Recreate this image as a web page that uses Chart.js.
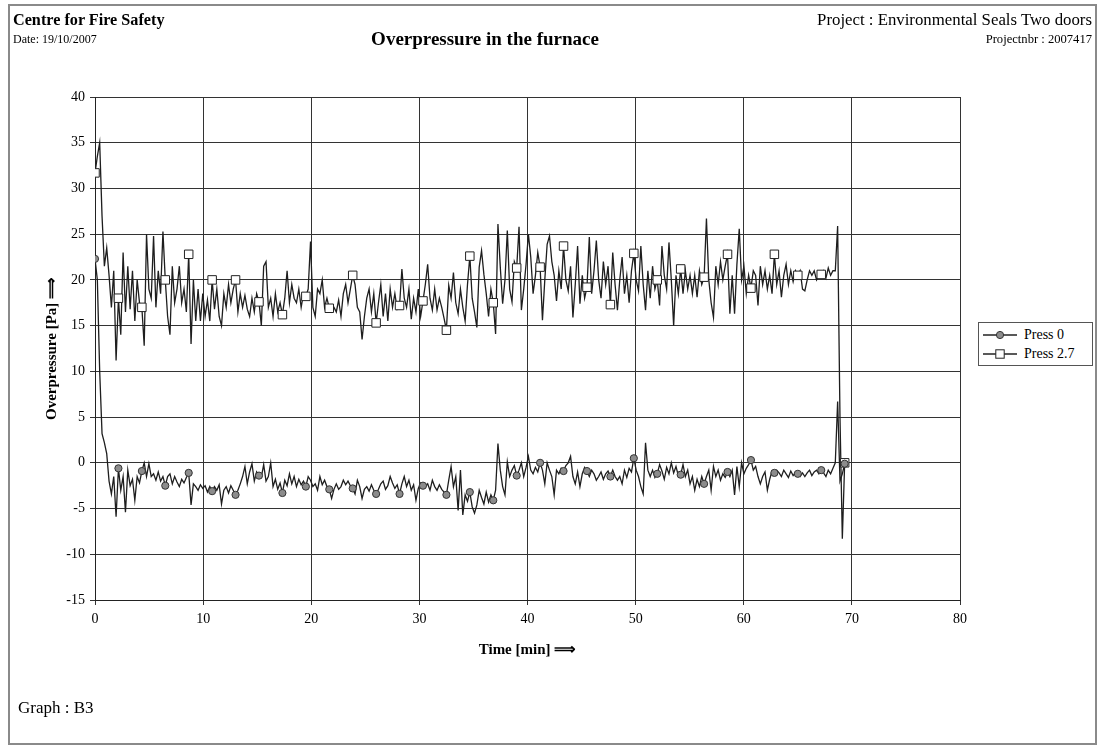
<!DOCTYPE html>
<html>
<head>
<meta charset="utf-8">
<script src="https://cdn.jsdelivr.net/npm/chart.js"></script>
<style>
html,body{margin:0;padding:0;background:#fff;}
#wrap{position:relative;width:1103px;height:747px;overflow:hidden;font-family:"Liberation Serif","Times New Roman",serif;color:#000;background:#fff;}
#frame{position:absolute;left:8px;top:4px;width:1089px;height:741px;border:2px solid #8a8a8a;box-sizing:border-box;}
canvas{position:absolute;left:0;top:0;}
.t{position:absolute;white-space:nowrap;line-height:1;transform:translateY(-50%);}
.r{text-align:right;}
#legend{position:absolute;left:978px;top:322px;width:115px;height:44px;border:1px solid #555;box-sizing:border-box;background:#fff;}
.lrow{position:absolute;left:4px;height:16px;display:flex;align-items:center;font-size:14px;}
.lrow svg{margin-right:7px;}
</style>
</head>
<body>
<div id="wrap">
  <div id="frame"></div>
  <canvas id="c" width="1103" height="747"></canvas>
  <div class="t" style="left:13px;top:20px;font-size:16.2px;font-weight:bold;">Centre for Fire Safety</div>
  <div class="t" style="left:13px;top:39px;font-size:12px;">Date: 19/10/2007</div>
  <div class="t" style="left:485px;top:38px;font-size:19px;font-weight:bold;transform:translate(-50%,-50%);">Overpressure in the furnace</div>
  <div class="t r" style="right:11px;top:20px;font-size:16.8px;">Project : Environmental Seals Two doors</div>
  <div class="t r" style="right:11px;top:39px;font-size:12.6px;">Projectnbr : 2007417</div>
  <div class="t" style="left:18px;top:707px;font-size:17px;">Graph : B3</div>
  <div id="legend">
    <div class="lrow" style="top:4px;"><svg width="34" height="10"><line x1="0" y1="5" x2="34" y2="5" stroke="#222" stroke-width="1.3"/><circle cx="17" cy="5" r="3.6" fill="#8c8c8c" stroke="#333" stroke-width="1"/></svg><span>Press 0</span></div>
    <div class="lrow" style="top:23px;"><svg width="34" height="10"><line x1="0" y1="5" x2="34" y2="5" stroke="#222" stroke-width="1.3"/><rect x="12.8" y="0.8" width="8.4" height="8.4" fill="#fff" stroke="#222" stroke-width="1"/></svg><span>Press 2.7</span></div>
  </div>
</div>
<script>
// ---- data ----
const SAMPLE_SECONDS = 13;           // sampling interval of the logger
const MARKER_EVERY = 10;             // a marker is drawn on every 10th sample
const seriesNames = ["Press 0", "Press 2.7"];
const xTicks = [0, 10, 20, 30, 40, 50, 60, 70, 80];
const yTicks = [-15, -10, -5, 0, 5, 10, 15, 20, 25, 30, 35, 40];

const press0 = [
  22.3, 20.0, 10.0, 3.2, 2.2, 1.0, -2.0, -3.4, -1.5, -5.9,
  -0.6, -3.0, -1.5, -5.4, -0.8, -2.5, -1.8, -4.1, -1.5, -2.2,
  -0.9, 0.0, -1.5, -0.1, -1.5, -1.2, -1.9, -1.0, -2.0, -1.5,
  -2.5, -1.5, -1.2, -2.3, -1.5, -2.1, -2.6, -1.8, -2.2, -1.6,
  -1.1, -4.6, -2.3, -2.6, -3.0, -2.4, -2.8, -2.5, -3.2, -2.6,
  -3.1, -2.6, -3.0, -2.4, -4.5, -3.0, -2.6, -3.3, -2.5, -3.0,
  -3.5, -3.0, -2.3, -1.5, -0.4, -2.3, -1.0, -0.1, -2.0, -1.0,
  -1.4, -1.6, -0.2, -2.0, -1.5, 0.0, -2.6, -1.8, -2.9, -2.2,
  -3.3, -1.9, -2.5, -1.2, -2.3, -1.5, -2.6, -1.8, -2.4, -2.0,
  -2.6, -1.5, -1.9, -2.6, -2.3, -3.0, -1.5, -2.4, -1.9, -2.6,
  -2.9, -3.9, -2.9, -2.3, -2.9, -2.6, -1.9, -2.4, -2.0, -2.5,
  -2.8, -3.4, -1.9, -2.6, -3.9, -2.9, -2.6, -3.1, -2.4, -3.0,
  -3.4, -2.9, -2.3, -2.0, -2.9, -2.5, -1.5, -2.2, -2.8, -2.4,
  -3.4, -2.3, -1.5, -2.6, -1.9, -3.0, -2.4, -4.1, -2.8, -2.2,
  -2.5, -2.6, -2.3, -3.0, -1.9, -2.6, -3.0, -2.4, -2.9, -3.2,
  -3.5, -1.9, -0.4, -2.6, -1.5, -5.2, -0.8, -5.7, -3.5, -4.2,
  -3.2, -4.8, -5.5, -4.6, -3.0, -3.8, -4.5, -3.2, -4.3, -3.5,
  -4.1, -3.0, 2.1, -0.8, -2.6, -3.5, 0.1, -1.5, -0.8, -0.3,
  -1.4, -0.8, 0.0, -1.5, -0.5, 0.7, -0.8, -1.2, -0.5, -1.0,
  0.0, -0.8, -2.3, 0.0, -0.8, -1.5, -3.5, -0.8, -1.2, -0.6,
  -0.9, -0.3, 0.0, 0.7, -1.5, -2.3, -1.0, -2.6, -1.2, -0.5,
  -0.9, -1.5, -0.8, -1.2, -1.9, -1.5, -1.0, -1.8, -1.2, -0.9,
  -1.5, -0.8, -1.5, -1.9, -1.5, -2.3, -0.8, -1.6, -0.6, -1.0,
  0.5, -0.8, -1.5, -2.6, -3.4, 2.2, -0.8, -1.5, -0.8, -1.6,
  -1.2, -0.2, -0.9, -1.8, -0.5, -1.2, 0.0, -1.1, -0.4, -1.4,
  -1.3, -0.2, -1.5, -0.8, -2.3, -1.5, -3.0, -1.8, -2.6, -1.5,
  -2.3, -1.5, -0.8, -3.0, -0.4, -1.5, -0.8, -1.9, -1.2, -1.6,
  -1.0, -1.5, -0.8, -3.5, -0.4, -2.6, 0.0, -1.2, -0.6, -0.2,
  0.3, -0.8, -0.4, -1.5, -2.3, -1.5, -1.0, -3.0, -1.8, -0.9,
  -1.1, -0.8, -1.1, -1.5, -0.8, -1.2, -1.6, -0.9, -1.4, -1.1,
  -1.2, -1.5, -1.1, -1.5, -1.1, -0.8, -1.4, -1.0, -0.8, -1.2,
  -0.8, -1.1, -1.5, -0.8, -1.2, -0.6, 0.0, 6.7, -2.0, -1.2,
  -0.1
];

const press27 = [
  31.7, 33.5, 35.0, 27.0, 21.5, 23.5, 20.5, 17.0, 21.0, 11.2,
  18.0, 14.0, 23.0, 16.5, 21.5, 16.8, 21.0, 15.5, 20.0, 17.5,
  17.0, 12.8, 25.0, 19.0, 18.0, 24.8, 17.0, 21.0, 18.5, 25.3,
  20.0, 16.0, 14.0, 21.5, 17.5, 19.0, 21.5, 17.5, 19.0, 16.5,
  22.8, 13.0, 20.0, 15.5, 19.0, 15.5, 18.5, 16.0, 17.8, 15.5,
  20.0, 16.8, 19.0, 16.0, 15.0, 18.5, 17.0, 19.5, 17.5, 19.0,
  20.0, 16.5, 18.5, 17.0, 18.3, 16.8, 16.0, 18.0, 16.5, 18.5,
  17.6, 15.0, 21.5, 22.0, 17.0, 18.0, 16.0, 18.5, 16.5, 17.5,
  16.2, 18.0, 21.0, 17.5, 19.5, 18.0, 17.5, 19.0, 17.0, 18.5,
  18.2, 19.0, 24.2, 17.0, 16.0, 19.0, 18.5, 20.0, 17.0, 18.0,
  16.9, 16.5, 17.0, 16.5, 17.8, 16.0, 18.5, 19.5, 17.5, 19.0,
  20.5, 19.5, 17.0, 16.5, 13.5, 16.0, 18.0, 19.0, 16.5, 18.5,
  15.3, 17.5, 19.5, 16.0, 18.5, 15.5, 19.0, 17.0, 18.5, 16.8,
  17.2, 21.2, 18.0, 17.0, 19.0, 15.7, 18.0, 16.5, 19.0, 16.0,
  17.7, 19.5, 21.7, 18.0, 16.7, 19.0, 16.7, 18.0, 17.0, 15.8,
  14.5, 19.4, 18.0, 20.8, 17.5, 16.3, 19.0, 17.0, 15.5, 19.5,
  22.6, 18.0, 16.5, 14.8, 21.4, 23.2, 20.6, 18.5, 16.0, 19.0,
  17.5, 14.1, 26.1, 21.4, 17.4, 20.0, 25.4, 19.0, 17.6, 22.0,
  21.3, 25.8, 16.7, 19.0, 21.7, 25.0, 22.5, 18.5, 20.5, 23.0,
  21.4, 15.6, 20.0, 23.9, 24.8, 22.0, 20.5, 17.7, 21.0, 19.0,
  23.7, 20.0, 18.8, 21.5, 15.9, 19.5, 23.7, 17.4, 20.5, 18.0,
  19.2, 24.7, 18.5, 21.0, 24.3, 20.0, 18.0, 22.0, 19.5, 21.5,
  17.3, 23.0, 19.5, 16.7, 20.0, 22.5, 18.5, 20.5, 17.5, 21.0,
  22.9, 20.0, 18.8, 23.7, 19.5, 16.7, 21.0, 18.0, 21.5, 19.0,
  20.0, 17.2, 23.7, 20.5, 19.0, 24.1, 20.0, 15.0, 20.5, 18.5,
  21.2, 18.5, 21.0, 19.0, 20.5, 18.5, 20.5, 18.1, 21.0, 19.5,
  20.3, 26.7, 20.0, 17.5, 15.9, 21.5, 19.5, 22.0, 20.0, 21.5,
  22.8, 16.3, 20.5, 16.3, 21.7, 25.6, 20.0, 21.5, 18.5, 20.5,
  19.1, 21.0, 20.5, 17.2, 21.5, 19.5, 21.0, 19.0, 20.5, 18.5,
  22.8, 19.5, 21.0, 18.1, 20.5, 21.7, 19.5, 21.0, 19.8, 21.0,
  20.5, 21.0, 19.0, 18.8, 20.0, 21.0, 20.5, 21.0, 20.0, 20.5,
  20.6, 21.0, 20.2, 21.3, 20.5, 21.0, 21.0, 25.9, 5.0, -8.3,
  0.0
];

// sample times in minutes
const timeMin = press0.map((_, i) => i * SAMPLE_SECONDS / 60);

// ---- chart ----
const FONT = "'Liberation Serif', 'Times New Roman', serif";
const toXY = arr => arr.map((v, i) => ({ x: timeMin[i], y: v }));
const markerR = r => ctx => (ctx.dataIndex % MARKER_EVERY === 0 ? r : 0);

new Chart(document.getElementById('c'), {
  type: 'line',
  data: {
    datasets: [
      {
        label: seriesNames[0],
        data: toXY(press0),
        borderColor: '#1e1e1e',
        borderWidth: 1.3,
        pointStyle: 'circle',
        pointRadius: markerR(3.6),
        pointHoverRadius: 0,
        pointBackgroundColor: '#8c8c8c',
        pointBorderColor: '#333',
        pointBorderWidth: 1,
        tension: 0
      },
      {
        label: seriesNames[1],
        data: toXY(press27),
        borderColor: '#1e1e1e',
        borderWidth: 1.3,
        pointStyle: 'rect',
        pointRadius: markerR(6),
        pointHoverRadius: 0,
        pointBackgroundColor: '#ffffff',
        pointBorderColor: '#222',
        pointBorderWidth: 1,
        tension: 0
      }
    ]
  },
  options: {
    responsive: false,
    animation: false,
    devicePixelRatio: 1,
    events: [],
    layout: { padding: { left: 0, right: 143, top: 97, bottom: 0 } },
    plugins: { legend: { display: false }, tooltip: { enabled: false }, title: { display: false } },
    scales: {
      x: {
        type: 'linear',
        min: 0, max: 80,
        afterFit: s => { s.height = 147; },
        afterBuildTicks: s => { s.ticks = xTicks.map(v => ({ value: v })); },
        grid: { color: '#333', lineWidth: 1, tickLength: 5, tickColor: '#333', drawTicks: true },
        border: { color: '#222', width: 1 },
        ticks: { color: '#000', font: { family: FONT, size: 14 }, padding: 6, maxRotation: 0 },
        title: {
          display: true, text: 'Time [min] ⟹', color: '#000',
          font: { family: FONT, size: 15, weight: 'bold' },
          padding: { top: 0, bottom: 88 }
        }
      },
      y: {
        type: 'linear',
        min: -15, max: 40,
        afterFit: s => { s.width = 95; },
        afterBuildTicks: s => { s.ticks = yTicks.map(v => ({ value: v })); },
        grid: { color: '#333', lineWidth: 1, tickLength: 5, tickColor: '#333', drawTicks: true },
        border: { color: '#222', width: 1 },
        ticks: { color: '#000', font: { family: FONT, size: 14 }, padding: 5 },
        title: {
          display: true, text: 'Overpressure [Pa] ⟹', color: '#000',
          font: { family: FONT, size: 15, weight: 'bold' },
          padding: { top: 43, bottom: 0 }
        }
      }
    }
  }
});
</script>
</body>
</html>
